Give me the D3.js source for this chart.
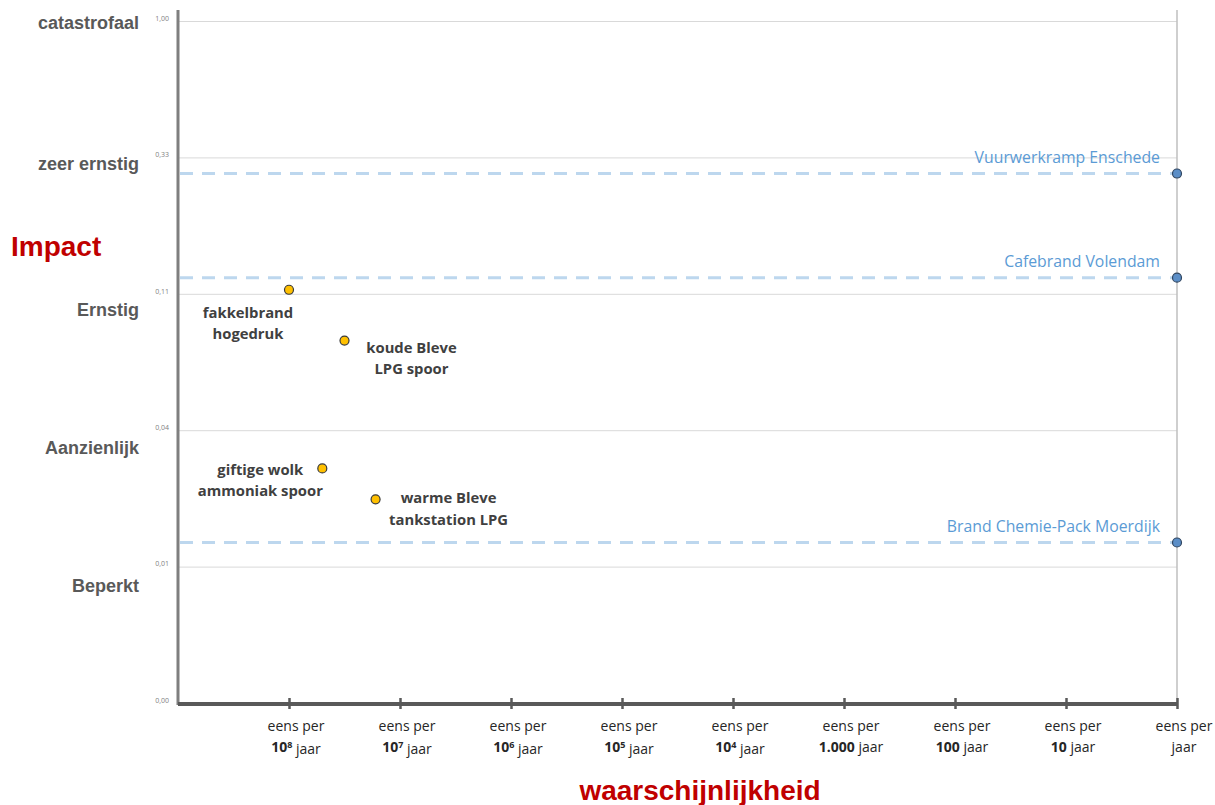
<!DOCTYPE html>
<html>
<head>
<meta charset="utf-8">
<script src="https://cdn.jsdelivr.net/npm/d3@7"></script>
<style>
  body { margin: 0; background: #fff; }
  svg { display: block; }
</style>
</head>
<body>
<div id="container"></div>
<script>
// impact levels (y axis), bottom to top
let yTicks = [0, 0.01, 0.04, 0.11, 0.33, 1];
let yCategories = ["", "Beperkt", "Aanzienlijk", "Ernstig", "zeer ernstig", "catastrofaal"];

// probability (x axis) as exponent: once per 10^n years
let xTicks = [8, 7, 6, 5, 4, 3, 2, 1, 0];
let xTickNumber = ["10", "10", "10", "10", "10", "1.000", "100", "10", ""];
let xTickSup = ["8", "7", "6", "5", "4", "", "", "", ""];

// scenarios (yellow points)
let scenarioNames = [["fakkelbrand", "hogedruk"], ["koude Bleve", "LPG spoor"], ["giftige wolk", "ammoniak spoor"], ["warme Bleve", "tankstation LPG"]];
let scenarioExp = [8.0, 7.5, 7.7, 7.22];
let scenarioImpact = [0.1165, 0.086, 0.0316, 0.0248];

// historic incidents (blue reference lines)
let incidentNames = ["Vuurwerkramp Enschede", "Cafebrand Volendam", "Brand Chemie-Pack Moerdijk"];
let incidentExp = [0, 0, 0];
let incidentImpact = [0.304, 0.136, 0.0153];

let w = 1215;
let h = 805;
let plotLeft = 178, plotRight = 1177, plotTop = 21, plotBottom = 703;

let viz = d3.select("#container")
  .append("svg")
    .attr("width", w)
    .attr("height", h)
    .style("font-family", "'Liberation Sans', Arial, sans-serif");

let step = (plotBottom - plotTop) / (yTicks.length - 1);
let yScale = d3.scaleLinear()
  .domain(yTicks)
  .range(yTicks.map(function(d, i){ return plotBottom - i * step; }));
let xScale = d3.scaleLinear().domain([9, 0]).range([plotLeft, plotRight]);

// gridlines
let grid = viz.append("g")
  .attr("transform", "translate(" + plotLeft + ",0)")
  .call(d3.axisLeft(yScale).tickValues(yTicks).tickSize(-(plotRight - plotLeft)).tickFormat(""));
grid.select(".domain").remove();
grid.selectAll("line").attr("stroke", "#d9d9d9").attr("stroke-width", 1);

// right border
viz.append("line")
  .attr("x1", plotRight).attr("x2", plotRight)
  .attr("y1", 10).attr("y2", plotBottom)
  .attr("stroke", "#bfbfbf").attr("stroke-width", 1.5);

// y axis small tick labels
let yAxis = viz.append("g")
  .attr("transform", "translate(" + (plotLeft - 6) + ",0)")
  .call(d3.axisLeft(yScale).tickValues(yTicks).tickSize(0)
    .tickFormat(function(d){ return d3.format(".2f")(d).replace(".", ","); }));
yAxis.select(".domain").remove();
yAxis.selectAll("text")
  .attr("dy", "-0.1em")
  .attr("fill", "#7f7f7f")
  .style("font-size", "7px")
  .style("font-family", "'Open Sans', sans-serif");

// y axis line
viz.append("line")
  .attr("x1", plotLeft).attr("x2", plotLeft)
  .attr("y1", 10).attr("y2", plotBottom + 2)
  .attr("stroke", "#7f7f7f").attr("stroke-width", 3);

// category labels
let catOffset = [0, 19, 17, 16, 6, 2];
viz.append("g").selectAll("text").data(yCategories).enter()
  .append("text")
    .attr("x", 139)
    .attr("y", function(d, i){ return yScale(yTicks[i]) + catOffset[i]; })
    .attr("dy", "0.35em")
    .attr("text-anchor", "end")
    .attr("fill", "#595959")
    .style("font-size", "18px")
    .style("font-weight", "bold")
    .text(function(d){ return d; });

// x axis
let xAxis = viz.append("g")
  .attr("transform", "translate(0," + (plotBottom + 1) + ")")
  .call(d3.axisBottom(xScale).tickValues(xTicks).tickSize(5).tickFormat(""));
xAxis.select(".domain")
  .attr("d", "M" + plotLeft + ",0H" + plotRight)
  .attr("stroke", "#595959").attr("stroke-width", 4);
xAxis.selectAll(".tick line")
  .attr("y1", -6).attr("y2", 5)
  .attr("stroke", "#595959").attr("stroke-width", 2.5);

// x tick labels (two lines)
let labShift = 7;
let xLab = viz.append("g").selectAll("text").data(xTicks).enter()
  .append("text")
    .attr("x", function(d){ return xScale(d) + labShift; })
    .attr("y", plotBottom + 28)
    .attr("text-anchor", "middle")
    .attr("fill", "#262626")
    .style("font-family", "'Open Sans', sans-serif")
    .style("font-size", "14px");
xLab.append("tspan").text("eens per");
xLab.each(function(d, i){
  let t = d3.select(this);
  let line2 = t.append("tspan")
    .attr("x", xScale(d) + labShift)
    .attr("dy", "1.5em");
  line2.append("tspan").style("font-weight", "bold").text(xTickNumber[i]);
  if (xTickSup[i] !== "") {
    line2.append("tspan").attr("dy", "-0.4em").style("font-size", "9px").style("font-weight", "bold").text(xTickSup[i]);
    line2.append("tspan").attr("dy", "0.4em").text(" jaar");
  } else {
    line2.append("tspan").text((xTickNumber[i] === "" ? "" : " ") + "jaar");
  }
});

// axis titles
viz.append("text")
  .attr("x", 11).attr("y", 246).attr("dy", "0.35em")
  .attr("fill", "#c00000")
  .style("font-size", "28px").style("font-weight", "bold")
  .text("Impact");
viz.append("text")
  .attr("x", 700).attr("y", 790).attr("dy", "0.35em")
  .attr("text-anchor", "middle")
  .attr("fill", "#c00000")
  .style("font-size", "28px").style("font-weight", "bold")
  .text("waarschijnlijkheid");

// incidents: dashed lines, labels, points
let incidents = incidentNames.map(function(n, i){
  return { name: n, exp: incidentExp[i], impact: incidentImpact[i] };
});
let incG = viz.append("g");
incG.selectAll("line").data(incidents).enter()
  .append("line")
    .attr("x1", plotLeft + 2)
    .attr("x2", function(d){ return xScale(d.exp); })
    .attr("y1", function(d){ return yScale(d.impact); })
    .attr("y2", function(d){ return yScale(d.impact); })
    .attr("stroke", "#bdd7ee")
    .attr("stroke-width", 3)
    .attr("stroke-dasharray", "13,9");
incG.selectAll("text").data(incidents).enter()
  .append("text")
    .attr("x", 1160)
    .attr("y", function(d){ return yScale(d.impact) - 11; })
    .attr("text-anchor", "end")
    .attr("fill", "#5b9bd5")
    .style("font-family", "'Open Sans', sans-serif")
    .style("font-size", "15.8px")
    .text(function(d){ return d.name; });
incG.selectAll("circle").data(incidents).enter()
  .append("circle")
    .attr("cx", function(d){ return xScale(d.exp); })
    .attr("cy", function(d){ return yScale(d.impact); })
    .attr("r", 4.5)
    .attr("fill", "#5b8ec7")
    .attr("stroke", "#2f4560")
    .attr("stroke-width", 1.2);

// scenarios: points and labels
let scenarios = scenarioNames.map(function(n, i){
  return { name: n, exp: scenarioExp[i], impact: scenarioImpact[i] };
});
let labelDx = [-41, 67, -62, 73];
let labelDy = [23, 7, 1, -1];
let scG = viz.append("g");
scG.selectAll("circle").data(scenarios).enter()
  .append("circle")
    .attr("cx", function(d){ return xScale(d.exp); })
    .attr("cy", function(d){ return yScale(d.impact); })
    .attr("r", 4.5)
    .attr("fill", "#ffc000")
    .attr("stroke", "#3a3a3a")
    .attr("stroke-width", 1.2);
let scLab = scG.selectAll("text").data(scenarios).enter()
  .append("text")
    .attr("text-anchor", "middle")
    .attr("fill", "#404040")
    .style("font-family", "'Open Sans', sans-serif")
    .style("font-size", "14.8px")
    .style("font-weight", "bold");
scLab.each(function(d, i){
  let x = xScale(d.exp) + labelDx[i];
  let y = yScale(d.impact) + labelDy[i];
  let t = d3.select(this).attr("y", y);
  t.append("tspan").attr("x", x).attr("dy", "0.35em").text(d.name[0]);
  t.append("tspan").attr("x", x).attr("dy", "1.45em").text(d.name[1]);
});
</script>
</body>
</html>
